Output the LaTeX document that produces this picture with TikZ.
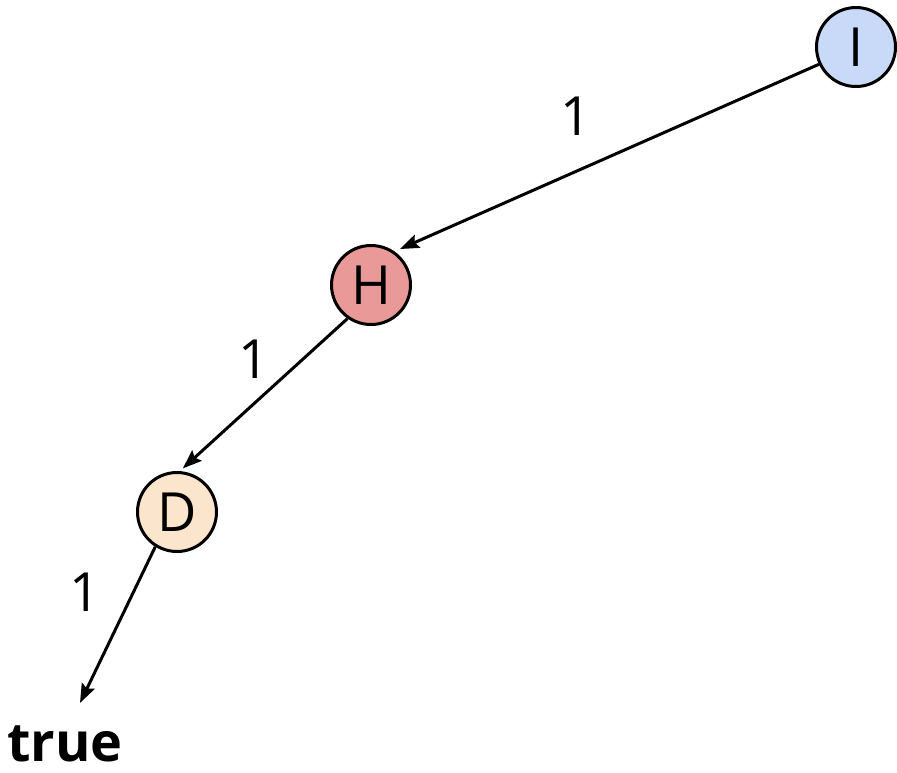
\documentclass[tikz,border=0pt]{standalone}
\usepackage{fontspec}
\setmainfont{Open Sans}
\usetikzlibrary{arrows.meta}
\definecolor{cI}{HTML}{C9DAF8}
\definecolor{cH}{HTML}{EA9999}
\definecolor{cD}{HTML}{FCE5CD}
\begin{document}
\begin{tikzpicture}[x=1pt,y=-1pt,
  vtx/.style={circle,draw=black,line width=3pt,minimum size=79pt,inner sep=0pt,font=\fontsize{54}{60}\selectfont},
  edge/.style={line width=3pt,-{Stealth[length=19pt,width=14pt,inset=3pt]}},
  lab/.style={font=\fontsize{54}{60}\selectfont,inner sep=0pt}]
\useasboundingbox (0,0) rectangle (897,772);
\node[vtx,fill=cI] (I) at (856,47) {I};
\node[vtx,fill=cH] (H) at (371,285) {H};
\node[vtx,fill=cD] (D) at (177,512) {D};
\node[font=\bfseries\fontsize{54}{60}\selectfont,inner sep=0pt,anchor=base] (T) at (65,761) {true};
\coordinate (Te) at (80,703);
\draw[edge,shorten >=6pt] (I.205) -- (H.55);
\draw[edge,shorten >=4pt] (H.235) -- (D.86);
\draw[edge] (D.238) -- (Te);
\node[lab] (l1) at (576,116) {1};
\node[lab] (l2) at (254,359) {1};
\node[lab] (l3) at (85,592) {1};
\end{tikzpicture}
\end{document}
